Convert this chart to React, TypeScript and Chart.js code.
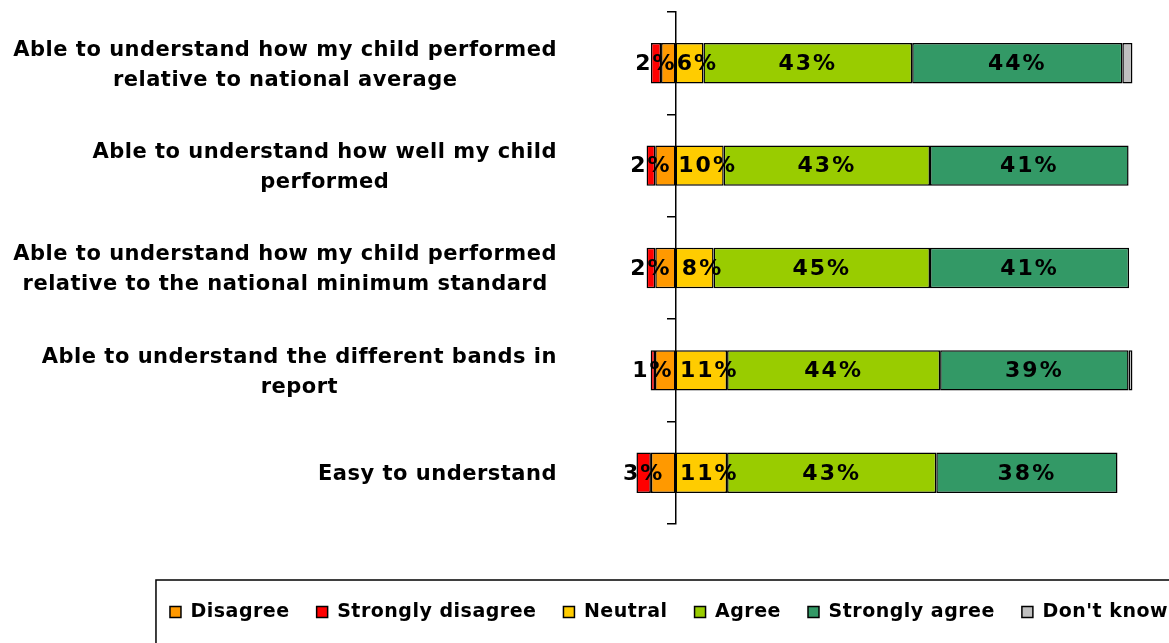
import React, { useEffect, useRef } from 'react';
import { Chart, registerables } from 'chart.js';

Chart.register(...registerables);

const categories: string[][] = [
  ['Able to understand how my child performed', 'relative to national average'],
  ['Able to understand how well my child', 'performed'],
  ['Able to understand how my child performed', 'relative to the national minimum standard'],
  ['Able to understand the different bands in', 'report'],
  ['Easy to understand'],
];

const seriesNames = ['Disagree', 'Strongly disagree', 'Neutral', 'Agree', 'Strongly agree', "Don't know"];

// percentages (disagree sides are shown to the left of zero)
const disagree = [3.0, 4.2, 4.2, 4.25, 5.1];
const stronglyDisagree = [2.1, 1.8, 1.8, 0.9, 3.0];
const neutral = [5.8, 10.0, 7.9, 10.7, 10.7];
const agree = [43.3, 42.8, 44.9, 44.2, 43.4];
const stronglyAgree = [43.6, 41.2, 41.3, 39.1, 37.6];
const dontKnow = [2.1, 0, 0, 0.8, 0];

const colors = ['#FF9900', '#FF0000', '#FFCC00', '#99CC00', '#339966', '#C0C0C0'];
const labelled = [false, true, true, true, true, false];
const labelShift = [0, 0, 8, 0, 0, 0];

const W = 1338;
const H = 660;
const Y_AXIS_W = 555;
const X_MIN = -25;
const PX_PER_UNIT = 4.82;
const X_MAX = X_MIN + (W - Y_AXIS_W) / PX_PER_UNIT;
const FONT = '"DejaVu Sans", Verdana, sans-serif';

export default function App() {
  const ref = useRef<HTMLCanvasElement | null>(null);

  useEffect(() => {
    if (!ref.current) return;
    Chart.defaults.font.family = FONT;
    Chart.defaults.color = '#000';

    const values = [
      disagree.map((v) => -v),
      stronglyDisagree.map((v) => -v),
      neutral,
      agree,
      stronglyAgree,
      dontKnow.map((v) => (v === 0 ? null : v)),
    ];

    const spacingPlugin = {
      id: 'spacing',
      beforeLayout(chart: any) {
        chart.ctx.letterSpacing = '0.5px';
      },
      beforeDraw(chart: any) {
        chart.ctx.letterSpacing = '0.5px';
      },
      beforeDatasetsDraw(chart: any) {
        chart.ctx.letterSpacing = '0px';
      },
    };

    const labelPlugin = {
      id: 'customLabels',
      afterDraw(chart: any) {
        const ctx = chart.ctx as CanvasRenderingContext2D;
        ctx.save();
        // bar value labels
        ctx.font = `bold 22px ${FONT}`;
        (ctx as any).letterSpacing = '2px';
        ctx.fillStyle = '#000';
        ctx.textAlign = 'center';
        ctx.textBaseline = 'middle';
        chart.data.datasets.forEach((ds: any, di: number) => {
          if (!labelled[di]) return;
          const meta = chart.getDatasetMeta(di);
          meta.data.forEach((bar: any, i: number) => {
            const v = ds.data[i];
            if (v == null) return;
            const p = bar.getProps(['x', 'base', 'y'], true);
            const cx = (p.x + p.base) / 2 + labelShift[di];
            ctx.fillText(Math.round(Math.abs(v)) + '%', cx, p.y + 1);
          });
        });
        // category labels: block right-aligned, lines centred within block
        ctx.font = `bold 21px ${FONT}`;
        (ctx as any).letterSpacing = '0.5px';
        const yScale = chart.scales.y;
        const right = chart.chartArea.left + 2;
        const lineH = 30;
        categories.forEach((lines, i) => {
          const yc = yScale.getPixelForValue(i);
          const maxW = Math.max(...lines.map((l) => ctx.measureText(l).width));
          const cx = right - maxW / 2;
          const y0 = yc - ((lines.length - 1) * lineH) / 2 + 2;
          lines.forEach((l, k) => ctx.fillText(l, cx, y0 + k * lineH));
        });
        // legend border
        const lg = chart.legend;
        if (lg && lg.legendHitBoxes && lg.legendHitBoxes.length) {
          const hb = lg.legendHitBoxes;
          const first = hb[0];
          const last = hb[hb.length - 1];
          const cy = first.top + first.height / 2;
          ctx.strokeStyle = '#000';
          ctx.lineWidth = 1.5;
          ctx.strokeRect(first.left - 14, cy - 32, last.left + last.width + 14 - (first.left - 14), 64);
        }
        ctx.restore();
      },
    };

    const chart = new Chart(ref.current, {
      type: 'bar',
      data: {
        labels: categories.map((c) => c.join(' ')),
        datasets: seriesNames.map((name, i) => ({
          label: name,
          data: values[i],
          backgroundColor: colors[i],
          borderColor: '#000',
          borderWidth: 1.5,
          borderSkipped: false,
          barPercentage: 0.395,
          categoryPercentage: 1,
        })),
      },
      options: {
        indexAxis: 'y',
        animation: false,
        responsive: false,
        layout: { padding: { top: 12, bottom: 28.5, left: 0, right: 0 } },
        scales: {
          x: {
            type: 'linear',
            min: X_MIN,
            max: X_MAX,
            stacked: true,
            ticks: { display: false },
            grid: { display: false },
            border: { display: false },
            afterFit: (s: any) => {
              s.height = 51.5;
            },
          },
          y: {
            type: 'category',
            stacked: true,
            position: 'left',
            offset: true,
            ticks: { display: false },
            grid: { display: false },
            border: { display: false },
            afterFit: (s: any) => {
              s.width = Y_AXIS_W;
            },
          },
          y2: {
            type: 'category',
            position: { x: 0 },
            offset: true,
            z: 1,
            ticks: { display: false },
            grid: {
              display: true,
              offset: true,
              drawOnChartArea: false,
              drawTicks: true,
              tickLength: 8,
              color: '#000',
              lineWidth: 1.5,
            },
            border: { display: true, color: '#000', width: 1.5 },
          },
        } as any,
        plugins: {
          legend: {
            position: 'bottom',
            labels: {
              boxWidth: 11,
              boxHeight: 11,
              padding: 27,
              color: '#000',
              font: { size: 19, weight: 'bold', family: FONT },
            },
          },
          tooltip: { enabled: false },
        },
      } as any,
      plugins: [spacingPlugin, labelPlugin],
    });

    return () => chart.destroy();
  }, []);

  return (
    <div
      style={{
        position: 'fixed',
        left: 0,
        top: 0,
        width: '1169px',
        height: '643px',
        overflow: 'hidden',
        background: '#fff',
      }}
    >
      <canvas ref={ref} width={W} height={H} style={{ display: 'block', width: W + 'px', height: H + 'px' }} />
    </div>
  );
}
